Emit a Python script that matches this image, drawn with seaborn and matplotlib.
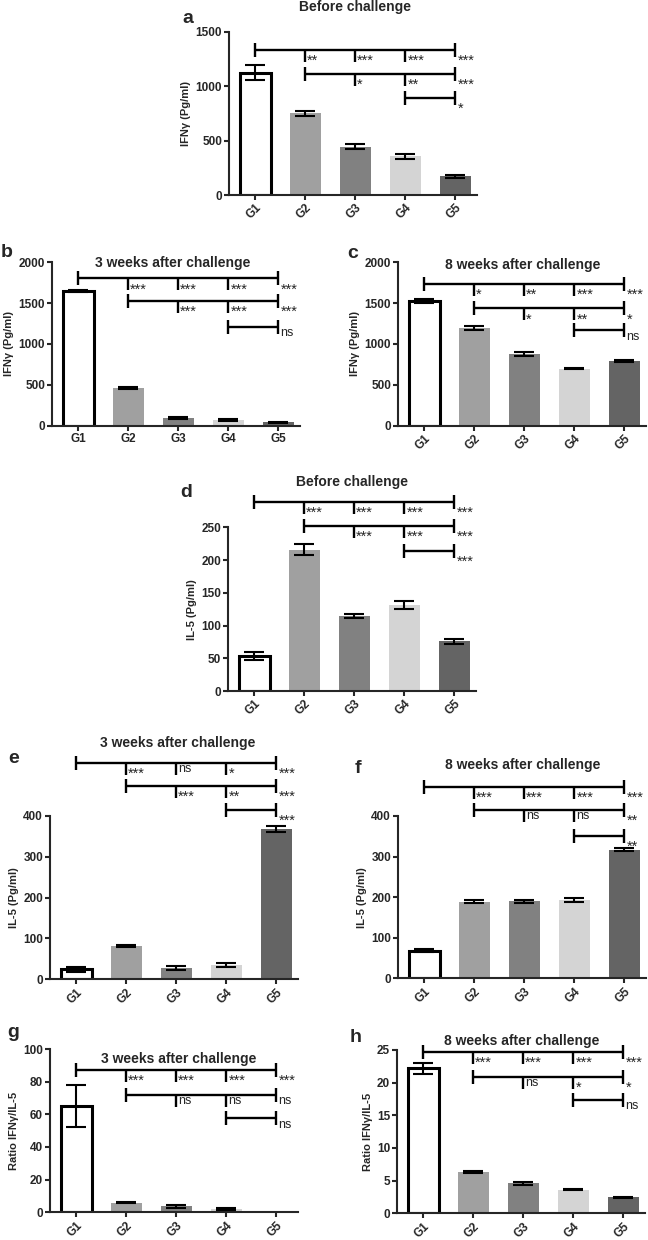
import numpy as np
import pandas as pd
import matplotlib
matplotlib.use("Agg")
import matplotlib.pyplot as plt
import seaborn as sns

# ---------------- data ----------------
groups = ["G1", "G2", "G3", "G4", "G5"]
bar_colors = ["#FFFFFF", "#A0A0A0", "#818181", "#D4D4D4", "#646464"]

a_mean = [1125, 750, 445, 355, 170]
a_err = [68, 20, 25, 22, 15]
b_mean = [1650, 460, 95, 70, 40]
b_err = [12, 15, 10, 10, 8]
c_mean = [1530, 1195, 880, 700, 790]
c_err = [25, 25, 25, 8, 10]
d_mean = [53, 216, 114, 131, 76]
d_err = [6, 8, 3, 6, 4]
e_mean = [25, 81, 28, 35, 368]
e_err = [6, 3, 5, 5, 8]
f_mean = [68, 189, 190, 193, 317]
f_err = [3, 3, 4, 4, 3]
g_mean = [65, 5.8, 3.7, 2.0, 0.1]
g_err = [13, 0.3, 1.0, 0.7, np.nan]
h_mean = [22.2, 6.3, 4.6, 3.6, 2.45]
h_err = [0.8, 0.1, 0.2, 0.1, 0.08]

# significance labels: row from G1, row from G2, row from G4
a_sig = [["**", "***", "***", "***"], ["*", "**", "***"], ["*"]]
b_sig = [["***", "***", "***", "***"], ["***", "***", "***"], ["ns"]]
c_sig = [["*", "**", "***", "***"], ["*", "**", "*"], ["ns"]]
d_sig = [["***", "***", "***", "***"], ["***", "***", "***"], ["***"]]
e_sig = [["***", "ns", "*", "***"], ["***", "**", "***"], ["***"]]
f_sig = [["***", "***", "***", "***"], ["ns", "ns", "**"], ["**"]]
g_sig = [["***", "***", "***", "***"], ["ns", "ns", "ns"], ["ns"]]
h_sig = [["***", "***", "***", "***"], ["ns", "*", "*"], ["ns"]]

# bracket heights (data units) for the three comparison rows
a_brk = [1332, 1111, 891]
b_brk = [1804, 1526, 1212]
c_brk = [1734, 1437, 1171]
d_brk = [289, 252, 214]
e_brk = [531, 473, 415]
f_brk = [472, 415, 351]
g_brk = [87.1, 72.0, 57.5]
h_brk = [24.7, 20.9, 17.35]

a_ticks = [0, 500, 1000, 1500]
bc_ticks = [0, 500, 1000, 1500, 2000]
d_ticks = [0, 50, 100, 150, 200, 250]
ef_ticks = [0, 100, 200, 300, 400]
g_ticks = [0, 20, 40, 60, 80, 100]
h_ticks = [0, 5, 10, 15, 20, 25]

ifn_label = "IFNγ (Pg/ml)"
il5_label = "IL-5 (Pg/ml)"
ratio_label = "Ratio IFNγ/IL-5"

# ---------------- style ----------------
sns.set_style("ticks")
plt.rcParams["font.family"] = ["Liberation Sans", "DejaVu Sans"]
plt.rcParams["axes.linewidth"] = 1.5

W, H = 648, 1240
fig = plt.figure(figsize=(W / 100, H / 100), dpi=100)

XLIM = (-0.52, 4.43)
AXW = 248


def px_axes(left, top, bottom):
    return fig.add_axes([left / W, 1 - bottom / H, AXW / W, (bottom - top) / H])


def draw_panel(ax, means, errs, ticks, ylabel, rot, brk, sig):
    df = pd.DataFrame({"group": groups, "value": means})
    sns.barplot(data=df, x="group", y="value", hue="group", palette=bar_colors,
                width=0.62, saturation=1, errorbar=None, legend=False, ax=ax)
    for i, p in enumerate(ax.patches):
        if i == 0:
            p.set_edgecolor("black")
            p.set_linewidth(2.2)
        else:
            p.set_linewidth(0)
    ax.errorbar(range(len(groups)), means, yerr=errs, fmt="none", ecolor="black",
                elinewidth=1.5, capsize=7, capthick=1.5, zorder=5)
    ax.set_xlim(*XLIM)
    ax.set_ylim(ticks[0], ticks[-1])
    ax.set_yticks(ticks)
    ax.set_yticklabels([str(t) for t in ticks])
    ax.set_xticks(range(5))
    if rot:
        ax.set_xticklabels(groups, rotation=45, ha="right", rotation_mode="anchor")
    else:
        ax.set_xticklabels(groups)
    ax.set_xlabel("")
    ax.set_ylabel(ylabel, fontsize=8, fontweight="bold", labelpad=3)
    ax.tick_params(axis="both", direction="out", length=3.5, width=1.5,
                   labelsize=8.5, pad=1.5)
    for lbl in ax.get_xticklabels() + ax.get_yticklabels():
        lbl.set_fontweight("bold")
    sns.despine(ax=ax)

    # brackets
    bb = ax.get_position()
    hpx = bb.height * H
    dpp = (ticks[-1] - ticks[0]) / hpx
    dxp = (XLIM[1] - XLIM[0]) / AXW
    starts = [0, 1, 3]
    kw = dict(color="black", lw=1.7, clip_on=False, solid_capstyle="butt", zorder=6)
    for r, (s, h) in enumerate(zip(starts, brk)):
        ax.plot([s, 4], [h, h], **kw)
        ax.plot([s, s], [h - 7 * dpp, h + 7 * dpp], **kw)
        ax.plot([4, 4], [h - 7 * dpp, h + 7 * dpp], **kw)
        mids = list(range(s + 1, 4))
        for j in mids:
            ax.plot([j, j], [h, h - 12 * dpp], **kw)
        for j, lab in zip(mids + [4], sig[r]):
            if "*" in lab:
                ax.text(j + 2 * dxp, h - 4.0 * dpp, lab, ha="left", va="top",
                        fontsize=10.5, clip_on=False)
            else:
                ax.text(j + 2 * dxp, h - 0.5 * dpp, lab, ha="left", va="top",
                        fontsize=9, clip_on=False)


axa = px_axes(229, 31.7, 195)
draw_panel(axa, a_mean, a_err, a_ticks, ifn_label, True, a_brk, a_sig)
axb = px_axes(52, 262.3, 425.7)
draw_panel(axb, b_mean, b_err, bc_ticks, ifn_label, False, b_brk, b_sig)
axc = px_axes(398, 262.3, 425.7)
draw_panel(axc, c_mean, c_err, bc_ticks, ifn_label, True, c_brk, c_sig)
axd = px_axes(228, 527.3, 691)
draw_panel(axd, d_mean, d_err, d_ticks, il5_label, True, d_brk, d_sig)
axe = px_axes(50, 816, 979.3)
draw_panel(axe, e_mean, e_err, ef_ticks, il5_label, True, e_brk, e_sig)
axf = px_axes(398, 816, 978.3)
draw_panel(axf, f_mean, f_err, ef_ticks, il5_label, True, f_brk, f_sig)
axg = px_axes(50, 1049, 1212.3)
draw_panel(axg, g_mean, g_err, g_ticks, ratio_label, True, g_brk, g_sig)
axh = px_axes(397, 1050, 1213.3)
draw_panel(axh, h_mean, h_err, h_ticks, ratio_label, True, h_brk, h_sig)

# titles and panel letters (pixel positions of layout)
titles = [("Before challenge", 355, 11), ("3 weeks after challenge", 173, 267.5),
          ("8 weeks after challenge", 523, 269), ("Before challenge", 352, 486),
          ("3 weeks after challenge", 178, 747.5), ("8 weeks after challenge", 523, 768.5),
          ("3 weeks after challenge", 179, 1062.5), ("8 weeks after challenge", 522, 1044.5)]
for t, x, y in titles:
    fig.text(x / W, 1 - y / H, t, ha="center", va="baseline", fontsize=10, fontweight="bold")

letters = [("a", 182, 22.7), ("b", 0.5, 256.7), ("c", 347, 258.3), ("d", 180, 496.7),
           ("e", 8.5, 763.3), ("f", 355, 773.3), ("g", 7, 1037), ("h", 350, 1041.7)]
for t, x, y in letters:
    fig.text(x / W, 1 - y / H, t, ha="left", va="baseline", fontsize=14, fontweight="bold")

fig.savefig("out.png", dpi=100)
